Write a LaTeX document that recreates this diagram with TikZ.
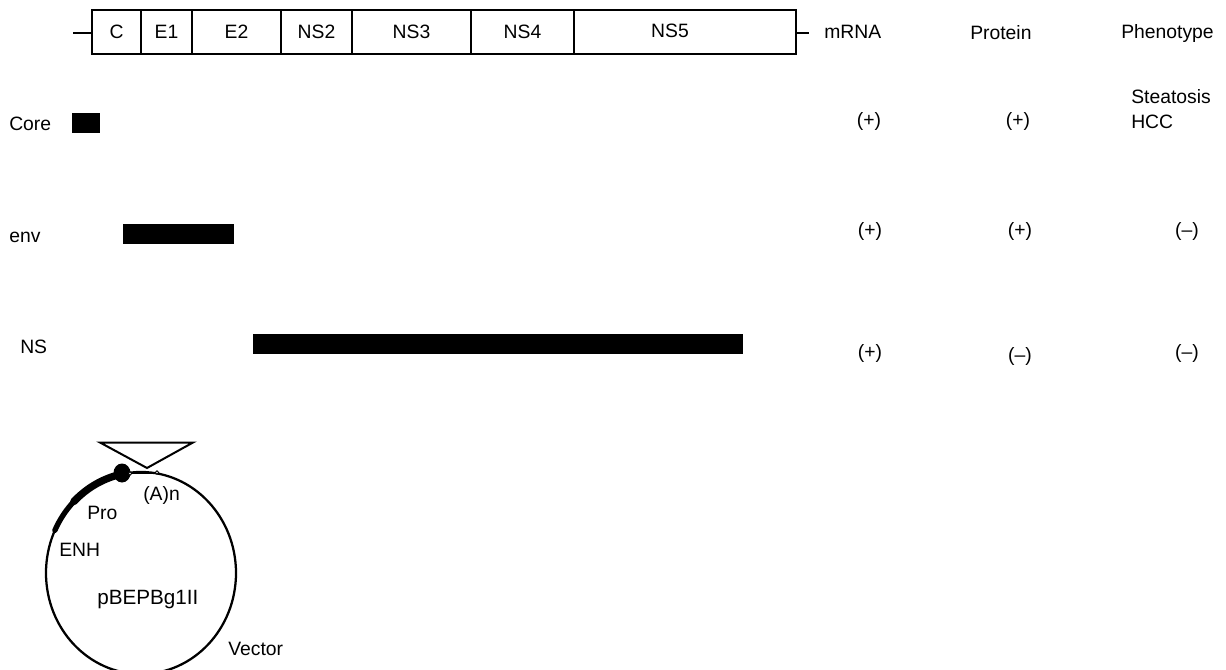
\documentclass[tikz,border=0pt]{standalone}
\usepackage{fontspec}
\setmainfont{Liberation Sans}
\usepackage{tikz}

\tikzset{
  segbox/.style={draw,line width=1.3pt,rectangle,inner sep=0pt,outer sep=0pt,minimum height=33pt,font=\fontsize{14.5}{17}\selectfont},
  txt/.style={inner sep=0.75pt,font=\fontsize{14.5}{17}\selectfont},
  bar/.style={fill=black,rectangle,inner sep=0pt,outer sep=0pt,minimum height=15pt},
}

\begin{document}
\begin{tikzpicture}[x=0.75pt,y=0.75pt,yscale=-1,xscale=1]
      \useasboundingbox (0,0) rectangle (1226,670);
      \clip (0,0) rectangle (1226,670);

      % Genome
      \node [segbox,minimum width=36.75pt] (c) at (116.5,32) {C};
      \node [segbox,minimum width=38.25pt] (e1) at (166.5,32) {E1};
      \node [segbox,minimum width=66.75pt] (e2) at (236.5,32) {E2};
      \node [segbox,minimum width=53.25pt] (ns2) at (316.5,32) {NS2};
      \node [segbox,minimum width=89.25pt] (ns3) at (411.5,32) {NS3};
      \node [segbox,minimum width=77.25pt] (ns4) at (522.5,32) {NS4};
      \node [segbox,minimum width=166.5pt] (ns5) at (685,32) {};
      \node [txt] (ns5text) at (670,31) {NS5};
      \coordinate (tailL) at (73,33);
      \coordinate (tailR) at (809,33);
      \draw [line width=1.3pt] (tailL) -- (tailL -| c.west);
      \draw [line width=1.3pt] (tailR -| ns5.east) -- (tailR);

      % Column heads
      \node [txt,anchor=west] (mrna) at (823,32) {mRNA};
      \node [txt,anchor=west] (protein) at (969,33) {Protein};
      \node [txt,anchor=west] (phenotype) at (1120,33.5) {Phenotype};

      % Constructs
      \node [txt,anchor=west] (core) at (8,124) {Core};
      \node [bar,minimum width=21pt] (corebar) at (86,123) {};
      \node [txt,anchor=west] (env) at (8,237) {env};
      \node [bar,minimum width=83.25pt] (envbar) at (178.5,234) {};
      \node [txt,anchor=west] (nslab) at (19,347) {NS};
      \node [bar,minimum width=367.5pt] (nsbar) at (498,344) {};

      % Results
      \node [txt] (coreM) at (869,121) {(+)};
      \node [txt] (coreP) at (1018,121) {(+)};
      \node [txt,anchor=west] (steatosis) at (1130,97) {Steatosis};
      \node [txt,anchor=west] (hcc) at (1130,122) {HCC};
      \node [txt] (envM) at (870,231) {(+)};
      \node [txt] (envP) at (1020,231) {(+)};
      \node [txt] (envF) at (1187,231) {(--)};
      \node [txt] (nsM) at (870,353) {(+)};
      \node [txt] (nsP) at (1020,356) {(--)};
      \node [txt] (nsF) at (1187,353) {(--)};

      % Vector
      \draw [line width=1.7pt] (141,573) ellipse [x radius=95,y radius=101];
      \draw [line width=4pt,line cap=round] (54.9,530.3) arc [start angle=-155,end angle=-135,x radius=95,y radius=101];
      \draw [line width=5.5pt,line cap=round] (73.8,501.6) arc [start angle=-135,end angle=-103,x radius=95,y radius=101];
      \draw [line width=1.7pt] (122,473) -- (157,473);
      \fill (122,473) ellipse [x radius=8.5,y radius=9.5];
      \draw [line width=0.7pt,fill=white] (130,473.5) circle [radius=1.8];
      \draw [line width=0.7pt,fill=white] (157,472.5) circle [radius=1.8];
      \draw [line width=1.5pt,line join=miter] (100,442.5) -- (193,442.5) -- (147,468) -- cycle;

      \node [txt,anchor=west] (polya) at (142,495) {(A)n};
      \node [txt,anchor=west] (pro) at (86,513) {Pro};
      \node [txt,anchor=west] (enh) at (58,550) {ENH};
      \node [txt,anchor=west,font=\fontsize{15.5}{18}\selectfont] (plasmid) at (96,600) {pBEPBg1II};
      \node [txt,anchor=west] (vector) at (227,649) {Vector};
\end{tikzpicture}
\end{document}
